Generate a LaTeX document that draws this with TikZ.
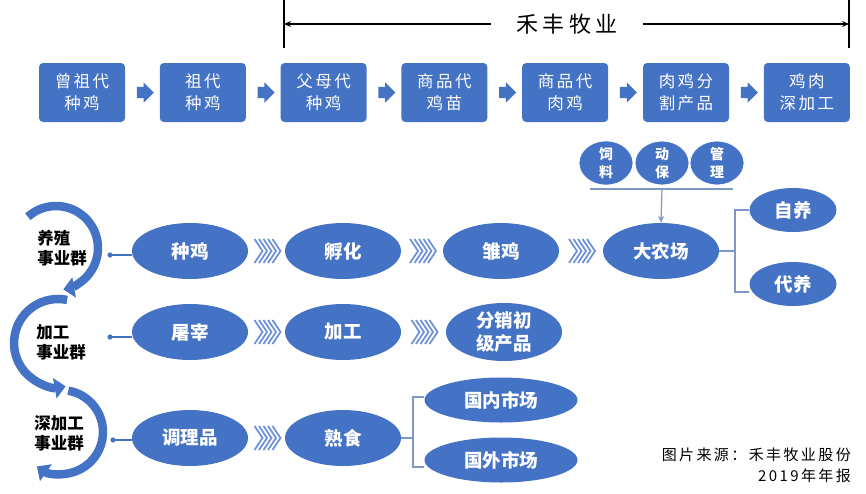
\documentclass[tikz,border=0pt]{standalone}
\usepackage{fontspec}
\setmainfont{Noto Sans CJK SC}
\usetikzlibrary{arrows.meta, shapes.geometric, shapes.arrows, calc}
\definecolor{hfblue}{HTML}{4472C4}
\definecolor{chevblue}{HTML}{6B90D3}
\definecolor{linkgray}{HTML}{7F97C6}

\begin{document}
\begin{tikzpicture}[x=1pt, y=-1pt, >={Stealth[length=7pt, width=6pt]},
	stagebox/.style={fill=hfblue, rounded corners=4pt, minimum width=86pt, minimum height=59pt,
		inner sep=0pt, text=white, align=center,
		font=\fontsize{16.5}{22}\selectfont\addfontfeature{LetterSpace=15}},
	blockarr/.style={single arrow, fill=hfblue, draw=none, minimum height=17pt,
		inner xsep=0pt, inner ysep=5.5pt, single arrow head extend=4.5pt},
	oval/.style={ellipse, fill=hfblue, minimum width=116pt, minimum height=56pt, inner sep=0pt,
		text=white, align=center, font=\bfseries\fontsize{18.5}{23}\selectfont},
	smalloval/.style={ellipse, fill=hfblue, draw=white, line width=0.8pt, minimum width=54pt,
		minimum height=44pt, inner sep=0pt, text=white, align=center,
		font=\bfseries\fontsize{14}{18}\selectfont},
	grouplabel/.style={align=left, inner sep=0pt, font=\bfseries\fontsize{16.5}{20}\selectfont},
	grouparc/.style={hfblue, line width=8.5pt, -{Triangle[length=11pt, width=20pt]}},
	linkline/.style={linkgray, line width=1.2pt},
	dotline/.style={hfblue, line width=1.4pt},
	chevs/.pic={\foreach \k in {0,...,4}
		\draw[chevblue, line width=1.7pt] (-12+4.5*\k,-12) -- (-4+4.5*\k,0) -- (-12+4.5*\k,12);}
	]
	\useasboundingbox (0,0) rectangle (866,493);
	
	% 1. Top chain of stages
	\foreach \t [count=\i] in {{曾祖代\\种鸡}, {祖代\\种鸡}, {父母代\\种鸡}, {商品代\\鸡苗},
		{商品代\\肉鸡}, {肉鸡分\\割产品}, {鸡肉\\深加工}}
		\node[stagebox] (s\i) at ({82+120.8*(\i-1)}, 92.5) {\t};
	\foreach \i/\j in {1/2, 2/3, 3/4, 4/5, 5/6, 6/7}
		\path (s\i.east) -- (s\j.west) node[midway, blockarr] {};
	
	% 2. Company bracket above the chain
	\coordinate (bL) at (284,0);
	\coordinate (bR) at (849,0);
	\draw[line width=1.8pt] (bL) -- ++(0,48);
	\draw[line width=1.8pt] (bR) -- ++(0,48);
	\node[inner xsep=25pt, font=\fontsize{22}{26}\selectfont\addfontfeature{LetterSpace=20}]
		(title) at (567,24) {禾丰牧业};
	\draw[->, line width=1.1pt] (title.west) -- (title -| bL);
	\draw[->, line width=1.1pt] (title.east) -- (title -| bR);
	
	% 3. Business groups with their circular arrows
	\node[grouplabel] (g1) at (62,248) {养殖\\事业群};
	\node[grouplabel] (g2) at (61,342) {加工\\事业群};
	\node[grouplabel] (g3) at (59,433) {深加工\\事业群};
	\coordinate (c1) at (56,248);
	\coordinate (c2) at (58,343);
	\coordinate (c3) at (61,432);
	\draw[grouparc] ($(c1)+(-132:42)$) arc[start angle=-132, end angle=80, radius=42];
	\draw[grouparc] ($(c2)+(-78:44)$) arc[start angle=-78, end angle=-280, radius=44];
	\draw[grouparc] ($(c3)+(-80:42)$) arc[start angle=-80, end angle=125, radius=42];
	
	% 4. Breeding row
	\node[oval] (seed) at (190,251) {种鸡};
	\node[oval] (hatch) at (343,251) {孵化};
	\node[oval] (chick) at (501,251) {雏鸡};
	\node[oval] (farm) at (661,251) {大农场};
	\node[oval, minimum width=87pt, minimum height=44pt] (self) at (793,210) {自养};
	\node[oval, minimum width=87pt, minimum height=44pt] (contract) at (793,284) {代养};
	\node[smalloval] (feed) at (606,163) {饲\\料};
	\node[smalloval] (vet) at (662,163) {动\\保};
	\node[smalloval] (mgmt) at (717,163) {管\\理};
	
	% 5. Processing row
	\node[oval] (kill) at (190,332) {屠宰};
	\node[oval] (proc) at (343,332) {加工};
	\node[oval, minimum height=57pt] (distr) at (504,332) {分销初\\级产品};
	
	% 6. Deep processing row
	\node[oval] (prep) at (190,438) {调理品};
	\node[oval] (cooked) at (343,438) {熟食};
	\node[oval, minimum width=153pt, minimum height=45pt] (home) at (501,400) {国内市场};
	\node[oval, minimum width=153pt, minimum height=45pt] (abroad) at (501,460) {国外市场};
	
	% 7. Chevrons between steps
	\foreach \a/\b in {seed/hatch, hatch/chick, chick/farm, kill/proc, proc/distr, prep/cooked}
		\pic at ($(\a.east)!0.5!(\b.west)$) {chevs};
	
	% 8. Dots from the groups to their first step
	\coordinate (d1) at (110,255);
	\coordinate (d2) at (110,337);
	\coordinate (d3) at (113,440);
	\foreach \d/\e in {d1/seed, d2/kill, d3/prep} {
		\fill[hfblue] (\d) circle (2.6pt);
		\draw[dotline] (\d) -- (\d -| \e.west);
	}
	
	% 9. Inputs to the farm and its two branches
	\coordinate (fl) at (590,189);
	\coordinate (fr) at (733,189);
	\draw[linkline] (fl) -- (fr);
	\draw[linkline, ->] (vet |- fl) -- (farm.north);
	\coordinate (fk) at (735,251);
	\draw[linkline] (farm.east) -- (fk);
	\draw[linkline] (self.west) -- (self.west -| fk) -- ([yshift=-8pt]contract.west -| fk)
		-- ([yshift=-8pt]contract.west);
	
	% 10. Markets of the cooked food
	\coordinate (mk) at (413,438);
	\draw[linkline] (cooked.east) -- (mk);
	\draw[linkline] ([yshift=3pt]home.west) -- ([yshift=3pt]home.west -| mk)
		-- ([yshift=-7pt]abroad.west -| mk) -- ([yshift=-7pt]abroad.west);
	
	% 11. Source note
	\node[anchor=north east, align=right, inner sep=0pt,
		font=\fontsize{15}{21}\selectfont\addfontfeature{LetterSpace=16}]
		(src) at (851,448) {图片来源：禾丰牧业股份\\2019年年报};
\end{tikzpicture}
\end{document}
